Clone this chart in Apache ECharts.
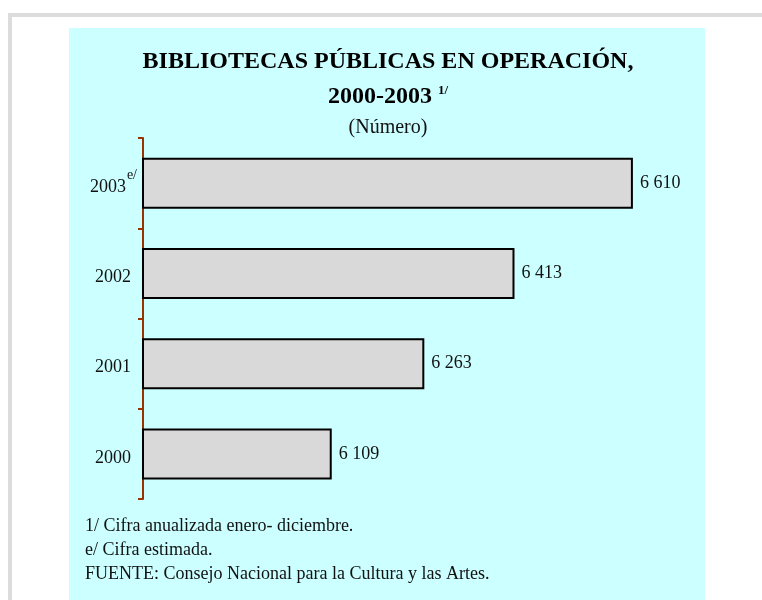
<!DOCTYPE html>
<html>
<head>
<meta charset="utf-8">
<script src="https://cdn.jsdelivr.net/npm/echarts@6/dist/echarts.min.js"></script>
<style>
html,body{margin:0;padding:0;background:#fff;}
#chart{width:762px;height:600px;}
</style>
</head>
<body>
<div id="chart"></div>
<script>
// Data
const categories = ['2000', '2001', '2002', '2003'];
const categoryNotes = ['', '', '', 'e/'];
const values = [6109, 6263, 6413, 6610];
const titleLine1 = 'BIBLIOTECAS PÚBLICAS EN OPERACIÓN,';
const titleLine2 = '2000-2003';
const titleNote = '1/';
const subtitle = '(Número)';
const footnotes = [
  '1/ Cifra anualizada enero- diciembre.',
  'e/ Cifra estimada.',
  'FUENTE: Consejo Nacional para la Cultura y las Artes.'
];

const SERIF = '"Liberation Serif", "Times New Roman", serif';
const chart = echarts.init(document.getElementById('chart'));

function fmtNum(v) {
  return String(v).replace(/\B(?=(\d{3})+(?!\d))/g, ' ');
}

const option = {
  backgroundColor: '#ffffff',
  animation: false,
  title: [
    {
      text: titleLine1,
      left: 388, top: 50, textAlign: 'center', padding: 0,
      textStyle: { fontFamily: SERIF, fontSize: 24, fontWeight: 'bold', color: '#000' }
    },
    {
      text: '{t|' + titleLine2 + ' }{s|' + titleNote + '}',
      left: 388, top: 84, textAlign: 'center', padding: 0,
      textStyle: {
        rich: {
          t: { fontFamily: SERIF, fontSize: 24, fontWeight: 'bold', color: '#000' },
          s: { fontFamily: SERIF, fontSize: 13, fontWeight: 'bold', color: '#000', padding: [0, 0, 12, 0] }
        }
      }
    },
    {
      text: subtitle,
      left: 388, top: 118, textAlign: 'center', padding: 0,
      textStyle: { fontFamily: SERIF, fontSize: 20, fontWeight: 'normal', color: '#111' }
    }
  ],
  graphic: [
    { type: 'rect', z: -100, silent: true, shape: { x: 8, y: 13, width: 754, height: 4 }, style: { fill: '#dcdcdc' } },
    { type: 'rect', z: -100, silent: true, shape: { x: 8, y: 13, width: 4, height: 587 }, style: { fill: '#dcdcdc' } },
    { type: 'rect', z: -100, silent: true, shape: { x: 69, y: 28, width: 636, height: 572 }, style: { fill: '#ccffff' } },
    ...footnotes.map((t, i) => ({
      type: 'text', z: 10, silent: true,
      left: 85, top: 517 + i * 24,
      style: { text: t, fontFamily: SERIF, fontSize: 18, fill: '#111' }
    }))
  ],
  grid: { left: 143, top: 138, height: 361, width: 541, containLabel: false },
  xAxis: {
    type: 'value', min: 5795, max: 6695, show: false
  },
  yAxis: {
    type: 'category',
    data: categories,
    axisLine: { show: true, lineStyle: { color: '#993300', width: 2 } },
    axisTick: { show: true, length: 5, lineStyle: { color: '#993300', width: 2 } },
    splitLine: { show: false },
    axisLabel: {
      margin: 6,
      formatter: function (v, idx) {
        const note = categoryNotes[idx];
        return note ? '{y|' + v + '}{s|' + note + '}' : '{yp|' + v + '}';
      },
      rich: {
        y: { fontFamily: SERIF, fontSize: 18, color: '#111', padding: [8, 1, 0, 0] },
        yp: { fontFamily: SERIF, fontSize: 18, color: '#111', padding: [8, 6, 0, 0] },
        s: { fontFamily: SERIF, fontSize: 14, color: '#111', padding: [0, 0, 16, 0] }
      }
    }
  },
  series: [{
    type: 'bar',
    data: values,
    barWidth: 51,
    itemStyle: { color: '#d9d9d9', borderColor: '#000', borderWidth: 2 },
    label: {
      show: true, position: 'right', distance: 7,
      fontFamily: SERIF, fontSize: 18, color: '#111',
      formatter: p => fmtNum(p.value)
    }
  }]
};
chart.setOption(option);
</script>
</body>
</html>
